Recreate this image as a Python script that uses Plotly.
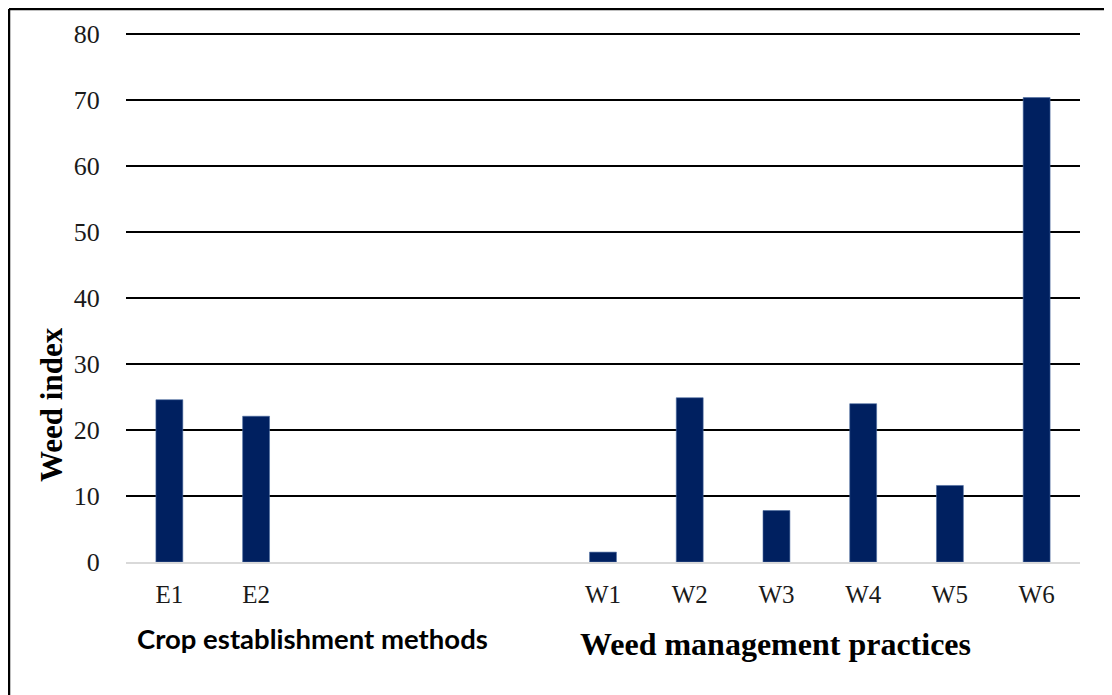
import plotly.graph_objects as go

categories = ["E1", "E2", " ", "  ", "   ", "W1", "W2", "W3", "W4", "W5", "W6"]
tick_labels = ["E1", "E2", "", "", "", "W1", "W2", "W3", "W4", "W5", "W6"]
weed_index = [24.6, 22.1, None, None, None, 1.5, 24.9, 7.8, 24.0, 11.6, 70.4]
y_ticks = [0, 10, 20, 30, 40, 50, 60, 70, 80]

# page is offset by the 8px default body margin
OFF = 8
W, H = 1112 - OFF, 695 - OFF
L, R = 126 - OFF, 1112 - 1080
T, B = 31 - OFF, 695 - 562
pw, ph = W - L - R, H - T - B


def px(x):
    return (x - OFF - L) / pw


def py(y):
    return (H - B - (y - OFF)) / ph


fig = go.Figure(go.Bar(
    x=categories, y=weed_index,
    marker=dict(color="#002060", line=dict(color="#4a6aa0", width=0.6)),
    hoverinfo="x+y",
))

fig.update_layout(
    width=W, height=H,
    margin=dict(l=L, r=R, t=T, b=B, autoexpand=False),
    paper_bgcolor="white", plot_bgcolor="white",
    bargap=0.69,
    showlegend=False,
    font=dict(family="Liberation Serif", size=25, color="black"),
)
fig.update_xaxes(
    type="category", categoryorder="array", categoryarray=categories,
    tickmode="array", tickvals=categories, ticktext=tick_labels,
    showgrid=False, showline=True, linecolor="#d9d9d9", linewidth=2,
    ticks="outside", ticklen=9, tickcolor="rgba(0,0,0,0)",
    tickfont=dict(family="Liberation Serif", size=25, color="#1a1a1a"),
)
fig.update_yaxes(
    range=[0, 80.5], tickmode="array", tickvals=y_ticks,
    showgrid=True, gridcolor="black", gridwidth=1.6,
    zeroline=False, showline=False,
    ticks="outside", ticklen=20, tickcolor="rgba(0,0,0,0)",
    tickfont=dict(family="Liberation Serif", size=26, color="#1a1a1a"),
)

# Border (top and left visible)
fig.add_shape(type="line", xref="paper", yref="paper",
              x0=px(9), x1=px(1120), y0=py(9), y1=py(9),
              line=dict(color="black", width=2.5))
fig.add_shape(type="line", xref="paper", yref="paper",
              x0=px(9), x1=px(9), y0=py(9), y1=py(700),
              line=dict(color="black", width=2.5))

fig.add_annotation(text="<b>Weed index</b>", xref="paper", yref="paper",
                   x=px(51), y=py(405), textangle=-90,
                   showarrow=False, xanchor="center", yanchor="middle",
                   font=dict(family="Liberation Serif", size=31, color="black"))
fig.add_annotation(text="<b>Crop establishment methods</b>", xref="paper", yref="paper",
                   x=px(312), y=py(638),
                   showarrow=False, xanchor="center", yanchor="middle",
                   font=dict(family="Lato", size=27.5, color="black"))
fig.add_annotation(text="<b>Weed management practices</b>", xref="paper", yref="paper",
                   x=px(775), y=py(644),
                   showarrow=False, xanchor="center", yanchor="middle",
                   font=dict(family="Liberation Serif", size=32, color="black"))

fig.write_html("out.html")
